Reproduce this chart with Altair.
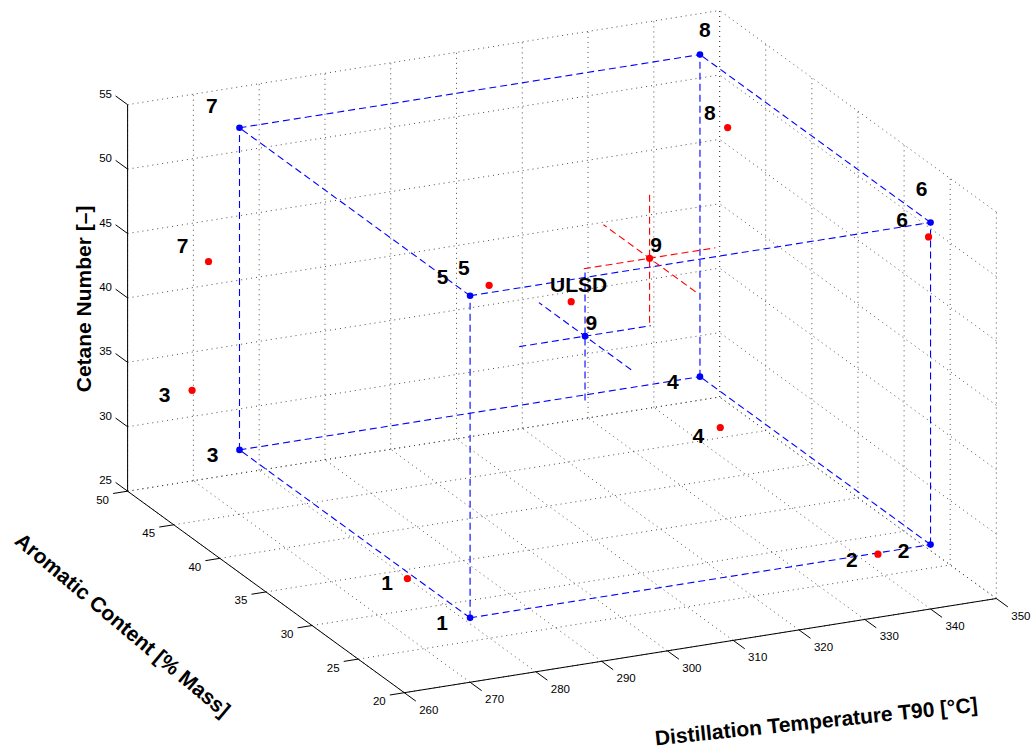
import math

import altair as alt
import pandas as pd

# ---------------------------------------------------------------- data
TICKS_T90 = [260, 270, 280, 290, 300, 310, 320, 330, 340, 350]
TICKS_AROM = [20, 25, 30, 35, 40, 45, 50]
TICKS_CN = [25, 30, 35, 40, 45, 50, 55]

# fuel matrix design targets (2^3 factorial + centre point)
DESIGN_ID = ["1", "2", "3", "4", "5", "6", "7", "8", "9"]
DESIGN_T90 = [270, 340, 270, 340, 270, 340, 270, 340, 305]
DESIGN_AROM = [20, 20, 45, 45, 20, 20, 45, 45, 32.5]
DESIGN_CN = [30, 30, 30, 30, 55, 55, 55, 55, 42.5]

# measured properties of the blended fuels and the reference ULSD
FUEL_ID = ["1", "2", "3", "4", "5", "6", "7", "8", "9", "ULSD"]
FUEL_T90 = [270, 332, 267, 340, 275.7, 339.7, 269.5, 340, 320, 305]
FUEL_AROM = [26.8, 20, 48, 42.8, 22, 20, 48, 42, 36.2, 34]
FUEL_CN = [29.5, 29.9, 33.3, 27.2, 54.3, 53.9, 43.1, 50.9, 45.4, 44.4]

# half-widths of the tolerance cross drawn at the centre point
SPREAD_T90 = 10
SPREAD_AROM = 5
SPREAD_CN = 5

# cube edges between the design corners (1-based ids)
CUBE_EDGES = [(1, 2), (3, 4), (5, 6), (7, 8),
              (1, 3), (2, 4), (5, 7), (6, 8),
              (1, 5), (2, 6), (3, 7), (4, 8)]

# ---------------------------------------------------------------- view
W, H = 1033, 753
X_LIM = (260, 350)
Y_LIM = (20, 50)
Z_LIM = (25, 55)
AZ = math.radians(-25.05)
EL = math.radians(19.9)
Z_ASPECT = 0.629
PX = 653.5                    # pixels per normalised box unit
ORIGIN = (404.3, 692.7)       # where the (260, 20, 25) corner sits

FONT = "Liberation Sans"


def project(x, y, z):
    xn = (x - X_LIM[0]) / (X_LIM[1] - X_LIM[0])
    yn = (y - Y_LIM[0]) / (Y_LIM[1] - Y_LIM[0])
    zn = (z - Z_LIM[0]) / (Z_LIM[1] - Z_LIM[0])
    u = math.cos(AZ) * xn + math.sin(AZ) * yn
    v = (-math.sin(AZ) * math.sin(EL) * xn
         + math.cos(AZ) * math.sin(EL) * yn
         + math.cos(EL) * Z_ASPECT * zn)
    return u, v


def seg(p, q):
    u1, v1 = project(*p)
    u2, v2 = project(*q)
    return {"u": u1, "v": v1, "u2": u2, "v2": v2}


def shifted(p, dx, dy):
    u, v = project(*p)
    return u + dx / PX, v - dy / PX


# ---------------------------------------------------------------- geometry tables
grid_rows = []
for xt in TICKS_T90:
    grid_rows.append(seg((xt, Y_LIM[0], Z_LIM[0]), (xt, Y_LIM[1], Z_LIM[0])))
    grid_rows.append(seg((xt, Y_LIM[1], Z_LIM[0]), (xt, Y_LIM[1], Z_LIM[1])))
for yt in TICKS_AROM:
    grid_rows.append(seg((X_LIM[0], yt, Z_LIM[0]), (X_LIM[1], yt, Z_LIM[0])))
    grid_rows.append(seg((X_LIM[1], yt, Z_LIM[0]), (X_LIM[1], yt, Z_LIM[1])))
for zt in TICKS_CN:
    grid_rows.append(seg((X_LIM[0], Y_LIM[1], zt), (X_LIM[1], Y_LIM[1], zt)))
    grid_rows.append(seg((X_LIM[1], Y_LIM[0], zt), (X_LIM[1], Y_LIM[1], zt)))
grid_df = pd.DataFrame(grid_rows)

axis_rows = [
    seg((X_LIM[0], Y_LIM[0], Z_LIM[0]), (X_LIM[1], Y_LIM[0], Z_LIM[0])),
    seg((X_LIM[0], Y_LIM[0], Z_LIM[0]), (X_LIM[0], Y_LIM[1], Z_LIM[0])),
    seg((X_LIM[0], Y_LIM[1], Z_LIM[0]), (X_LIM[0], Y_LIM[1], Z_LIM[1])),
]
for xt in TICKS_T90:
    axis_rows.append(seg((xt, Y_LIM[0], Z_LIM[0]), (xt, Y_LIM[0] - 1.25, Z_LIM[0])))
for yt in TICKS_AROM:
    axis_rows.append(seg((X_LIM[0], yt, Z_LIM[0]), (X_LIM[0] - 2.2, yt, Z_LIM[0])))
for zt in TICKS_CN:
    axis_rows.append(seg((X_LIM[0], Y_LIM[1], zt), (X_LIM[0], Y_LIM[1] + 1.3, zt)))
axis_df = pd.DataFrame(axis_rows)

tick_rows = []
for xt in TICKS_T90:
    u, v = shifted((xt, Y_LIM[0], Z_LIM[0]), 24.5, 18)
    tick_rows.append({"u": u, "v": v, "t": str(xt)})
for yt in TICKS_AROM:
    u, v = shifted((X_LIM[0], yt, Z_LIM[0]), -25, 9.5)
    tick_rows.append({"u": u, "v": v, "t": str(yt)})
for zt in TICKS_CN:
    u, v = shifted((X_LIM[0], Y_LIM[1], zt), -22, -10)
    tick_rows.append({"u": u, "v": v, "t": str(zt)})
tick_df = pd.DataFrame(tick_rows)

design = list(zip(DESIGN_T90, DESIGN_AROM, DESIGN_CN))
fuels = list(zip(FUEL_T90, FUEL_AROM, FUEL_CN))

cube_df = pd.DataFrame([seg(design[a - 1], design[b - 1]) for a, b in CUBE_EDGES])


def cross(c):
    x, y, z = c
    return [
        seg((x - SPREAD_T90, y, z), (x + SPREAD_T90, y, z)),
        seg((x, y - SPREAD_AROM, z), (x, y + SPREAD_AROM, z)),
        seg((x, y, z - SPREAD_CN), (x, y, z + SPREAD_CN)),
    ]


blue_cross_df = pd.DataFrame(cross(design[8]))
red_cross_df = pd.DataFrame(cross(fuels[8]))

design_pts = pd.DataFrame([dict(zip(("u", "v"), project(*p)), id=i)
                           for p, i in zip(design, DESIGN_ID)])
fuel_pts = pd.DataFrame([dict(zip(("u", "v"), project(*p)), id=i)
                         for p, i in zip(fuels, FUEL_ID)])

# label placement next to each marker, in screen pixels
DESIGN_LABEL_SHIFT = {
    "1": (-28, 6), "2": (-27, 7), "3": (-27, 6.5), "4": (-27, 6.5),
    "5": (-27.5, -17.7), "6": (-9, -32), "7": (-27.6, -20.5),
    "8": (5, -23.5), "9": (6.4, -11.8),
}
FUEL_LABEL_SHIFT = {
    "1": (-20.3, 5.3), "2": (-26, 6.8), "3": (-27.5, 5.8), "4": (-22, 9.5),
    "5": (-25.3, -16.7), "6": (-26.6, -15.9), "7": (-25.9, -14.9),
    "8": (-17.7, -13.2), "9": (6.5, -11.9), "ULSD": (7.5, -15.5),
}

label_rows = []
for p, i in zip(design, DESIGN_ID):
    u, v = shifted(p, *DESIGN_LABEL_SHIFT[i])
    label_rows.append({"u": u, "v": v, "t": i})
for p, i in zip(fuels, FUEL_ID):
    u, v = shifted(p, *FUEL_LABEL_SHIFT[i])
    label_rows.append({"u": u, "v": v, "t": i})
label_df = pd.DataFrame(label_rows)

# axis titles, anchored at each axis midpoint
tx = shifted(((X_LIM[0] + X_LIM[1]) / 2, Y_LIM[0], Z_LIM[0]), 116, 77)
ty = shifted((X_LIM[0], (Y_LIM[0] + Y_LIM[1]) / 2, Z_LIM[0]), -144, 34)
tz = shifted((X_LIM[0], Y_LIM[1], (Z_LIM[0] + Z_LIM[1]) / 2), -43, 1)
titles = [
    ("Distillation Temperature T90 [°C]", tx, 354),
    ("Aromatic Content [% Mass]", ty, 40),
    ("Cetane Number [–]", tz, 270),
]

# ---------------------------------------------------------------- chart
xs = alt.Scale(domain=[-ORIGIN[0] / PX, (W - ORIGIN[0]) / PX], nice=False, zero=False)
ys = alt.Scale(domain=[(ORIGIN[1] - H) / PX, ORIGIN[1] / PX], nice=False, zero=False)
X = alt.X("u:Q", scale=xs, axis=None)
Y = alt.Y("v:Q", scale=ys, axis=None)


def segments(df, color, dash=None, width=1.0):
    kw = dict(color=color, strokeWidth=width)
    if dash is not None:
        kw["strokeDash"] = dash
    return alt.Chart(df).mark_rule(**kw).encode(x=X, y=Y, x2="u2:Q", y2="v2:Q")


grid = segments(grid_df, "#3a3a3a", dash=[1, 4], width=0.9)
axes = segments(axis_df, "#000000", width=1.0)
cube = segments(cube_df, "#0000ff", dash=[7, 4], width=1.1)
blue_cross = segments(blue_cross_df, "#0000ff", dash=[7, 4], width=1.1)
red_cross = segments(red_cross_df, "#ff0000", dash=[7, 4], width=1.1)

design_marks = alt.Chart(design_pts).mark_circle(
    color="#0000ff", opacity=1, size=44).encode(x=X, y=Y)
fuel_marks = alt.Chart(fuel_pts).mark_circle(
    color="#ff0000", opacity=1, size=52).encode(x=X, y=Y)

ticks_text = alt.Chart(tick_df).mark_text(
    font=FONT, fontSize=11.5, color="#000000", align="center", baseline="middle"
).encode(x=X, y=Y, text="t:N")

labels = alt.Chart(label_df).mark_text(
    font=FONT, fontSize=21, fontWeight="bold", color="#000000",
    align="center", baseline="middle"
).encode(x=X, y=Y, text="t:N")

title_layers = []
for text, (u, v), ang in titles:
    title_layers.append(
        alt.Chart(pd.DataFrame({"u": [u], "v": [v], "t": [text]})).mark_text(
            font=FONT, fontSize=21, fontWeight="bold", color="#000000",
            align="center", baseline="middle", angle=ang
        ).encode(x=X, y=Y, text="t:N")
    )

chart = alt.layer(
    grid, axes, cube, blue_cross, red_cross,
    design_marks, fuel_marks, ticks_text, labels, *title_layers
).properties(
    width=W, height=H, padding=0,
    autosize=alt.AutoSizeParams(type="none"),
    background="#ffffff",
).configure_view(strokeWidth=0)

chart.save("out.html", embed_options={"renderer": "svg", "actions": False})
